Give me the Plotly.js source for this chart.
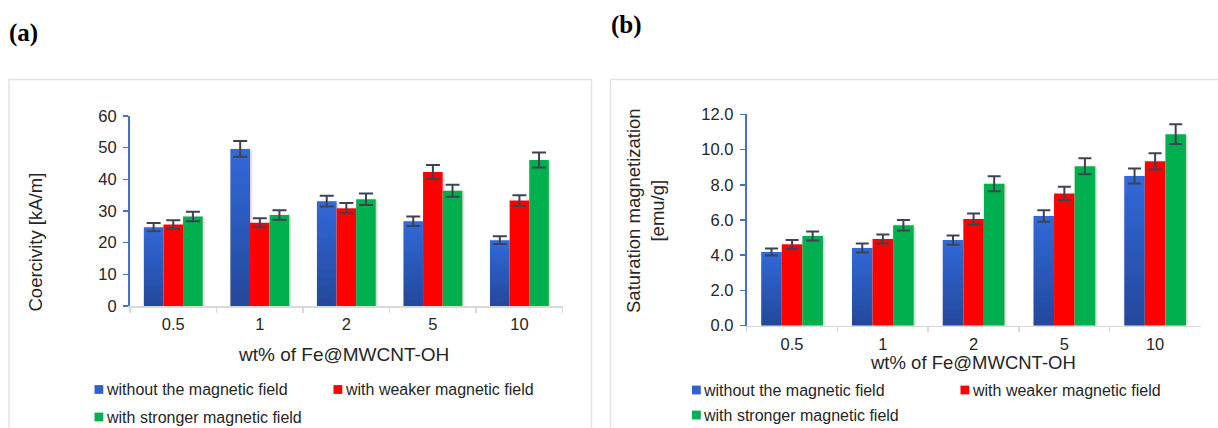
<!DOCTYPE html>
<html>
<head>
<meta charset="utf-8">
<script src="https://cdn.plot.ly/plotly-3.0.1.min.js"></script>
<style>
  html, body { margin: 0; padding: 0; background: #ffffff; }
  #chart { width: 1218px; height: 428px; }
</style>
</head>
<body>
<div id="chart"></div>
<script>
// ---------------- data ----------------
const categories = ['0.5', '1', '2', '5', '10'];
const seriesNames = ['without the magnetic field', 'with weaker magnetic field', 'with stronger magnetic field'];

// (a) Coercivity [kA/m]
const coercWithout  = [24.9, 49.6, 33.1, 26.8, 20.8];
const coercWeaker   = [25.7, 26.3, 30.9, 42.3, 33.3];
const coercStronger = [28.3, 28.7, 33.7, 36.4, 46.1];
const coercErrWithout  = [1.3, 2.5, 1.7, 1.5, 1.2];
const coercErrWeaker   = [1.4, 1.4, 1.6, 2.2, 1.7];
const coercErrStronger = [1.5, 1.5, 1.8, 1.9, 2.4];

// (b) Saturation magnetization [emu/g]
const satWithout  = [4.18, 4.41, 4.86, 6.23, 8.50];
const satWeaker   = [4.62, 4.92, 6.06, 7.51, 9.33];
const satStronger = [5.09, 5.70, 8.06, 9.05, 10.87];
const satErrWithout  = [0.20, 0.25, 0.26, 0.33, 0.43];
const satErrWeaker   = [0.25, 0.26, 0.31, 0.38, 0.46];
const satErrStronger = [0.26, 0.30, 0.43, 0.46, 0.56];

const yTitleA = 'Coercivity [kA/m]';
const yTitleB = 'Saturation magnetization<br>[emu/g]';
const xTitle = 'wt% of Fe@MWCNT-OH';

// ---------------- styling ----------------
const W = 1218, H = 428;
const px = x => x / W;
const py = y => 1 - y / H;
const FONT = 'Liberation Sans, Arial, sans-serif';
const TXT = '#262626';
const colors = ['#2e62cc', '#ff0000', '#00b050'];
const errColor = '#3d4350';

function barTrace(vals, errs, i, xa, ya, capw) {
  return {
    type: 'bar', x: categories, y: vals, name: seriesNames[i],
    xaxis: xa, yaxis: ya, showlegend: false, hoverinfo: 'skip',
    marker: { color: colors[i], line: { width: 0 } },
    error_y: { type: 'data', array: errs, visible: true, color: errColor, thickness: 2, width: capw }
  };
}

const data = [
  barTrace(coercWithout, coercErrWithout, 0, 'x', 'y', 7),
  barTrace(coercWeaker, coercErrWeaker, 1, 'x', 'y', 7),
  barTrace(coercStronger, coercErrStronger, 2, 'x', 'y', 7),
  barTrace(satWithout, satErrWithout, 0, 'x2', 'y2', 6.5),
  barTrace(satWeaker, satErrWeaker, 1, 'x2', 'y2', 6.5),
  barTrace(satStronger, satErrStronger, 2, 'x2', 'y2', 6.5)
];

const xAxisCommon = {
  type: 'category', showgrid: false, zeroline: false,
  showline: true, linecolor: '#d9d9d9', linewidth: 1.5,
  ticks: 'outside', tickson: 'boundaries', ticklen: 5, tickcolor: '#d9d9d9', tickwidth: 1.5,
  ticklabelstandoff: 3,
  tickfont: { family: FONT, size: 16.5, color: TXT }, fixedrange: true
};
const yAxisCommon = {
  showgrid: false, zeroline: false,
  showline: true, linecolor: '#4472c4', linewidth: 2,
  ticks: 'outside', ticklen: 5, tickcolor: '#4472c4', tickwidth: 1.5,
  ticklabelstandoff: 3,
  tickfont: { family: FONT, size: 16.5, color: TXT }, fixedrange: true
};

const shapes = [];
const annotations = [];

// panel frames
shapes.push({ type: 'rect', xref: 'paper', yref: 'paper', x0: px(9), x1: px(591.5), y0: py(445), y1: py(79.5),
  line: { color: '#dfe3ea', width: 1.5 }, fillcolor: 'rgba(0,0,0,0)', layer: 'below' });
shapes.push({ type: 'rect', xref: 'paper', yref: 'paper', x0: px(610.5), x1: px(1240), y0: py(445), y1: py(79.5),
  line: { color: '#dfe3ea', width: 1.5 }, fillcolor: 'rgba(0,0,0,0)', layer: 'below' });

// panel labels
annotations.push({ xref: 'paper', yref: 'paper', x: px(7), y: py(33), xanchor: 'left', yanchor: 'middle',
  text: '<b>(a)</b>', showarrow: false, font: { family: 'Liberation Serif, serif', size: 25, color: '#000' } });
annotations.push({ xref: 'paper', yref: 'paper', x: px(609), y: py(25), xanchor: 'left', yanchor: 'middle',
  text: '<b>(b)</b>', showarrow: false, font: { family: 'Liberation Serif, serif', size: 25, color: '#000' } });

// axis titles
annotations.push({ xref: 'paper', yref: 'paper', x: px(35), y: py(242.5), xanchor: 'center', yanchor: 'middle',
  text: yTitleA, textangle: -90, showarrow: false, font: { family: FONT, size: 18.5, color: TXT } });
annotations.push({ xref: 'paper', yref: 'paper', x: px(645), y: py(211), xanchor: 'center', yanchor: 'middle',
  text: yTitleB, textangle: -90, showarrow: false, font: { family: FONT, size: 18.5, color: TXT } });
annotations.push({ xref: 'paper', yref: 'paper', x: px(343), y: py(354), xanchor: 'center', yanchor: 'middle',
  text: xTitle, showarrow: false, font: { family: FONT, size: 19, color: TXT } });
annotations.push({ xref: 'paper', yref: 'paper', x: px(973), y: py(362.5), xanchor: 'center', yanchor: 'middle',
  text: xTitle, showarrow: false, font: { family: FONT, size: 18.5, color: TXT } });

// legends (custom, built from series names/colors)
function legend(pos) {
  pos.forEach((p, i) => {
    shapes.push({ type: 'rect', xref: 'paper', yref: 'paper',
      x0: px(p[0]), x1: px(p[0] + 8.8), y0: py(p[1] + 4.4), y1: py(p[1] - 4.4),
      line: { width: 0 }, fillcolor: colors[i] });
    annotations.push({ xref: 'paper', yref: 'paper', x: px(p[0] + 10), y: py(p[1]), xanchor: 'left', yanchor: 'middle',
      text: seriesNames[i], showarrow: false, borderpad: 0, font: { family: FONT, size: 16, color: TXT } });
  });
}
legend([[94.5, 389.5], [333.5, 389.5], [94.5, 417]]);
legend([[692, 390], [960.5, 390], [692, 415]]);

const layout = {
  width: W, height: H,
  margin: { l: 0, r: 0, t: 0, b: 0 },
  paper_bgcolor: '#ffffff', plot_bgcolor: 'rgba(0,0,0,0)',
  barmode: 'group', bargap: 0.32, bargroupgap: 0,
  showlegend: false,
  xaxis: Object.assign({}, xAxisCommon, { domain: [px(130), px(562.7)], anchor: 'y' }),
  yaxis: Object.assign({}, yAxisCommon, { domain: [py(306), py(116)], anchor: 'x', range: [0, 60], dtick: 10, tick0: 0 }),
  xaxis2: Object.assign({}, xAxisCommon, { domain: [px(746.7), px(1200.5)], anchor: 'y2' }),
  yaxis2: Object.assign({}, yAxisCommon, { domain: [py(325.7), py(114.3)], anchor: 'x2', range: [0, 12], dtick: 2, tick0: 0, tickformat: '.1f' }),
  shapes: shapes,
  annotations: annotations
};

Plotly.newPlot('chart', data, layout, { staticPlot: true, displayModeBar: false }).then(gd => {
  // blue gradient + soft shadow on bars
  const svg = gd.querySelector('svg.main-svg');
  const ns = 'http://www.w3.org/2000/svg';
  let defs = svg.querySelector('defs');
  if (!defs) { defs = document.createElementNS(ns, 'defs'); svg.insertBefore(defs, svg.firstChild); }
  const grad = document.createElementNS(ns, 'linearGradient');
  grad.setAttribute('id', 'blueGrad');
  grad.setAttribute('x1', '0'); grad.setAttribute('y1', '0'); grad.setAttribute('x2', '0'); grad.setAttribute('y2', '1');
  [['0', '#3169d9'], ['1', '#24489b']].forEach(s => {
    const st = document.createElementNS(ns, 'stop');
    st.setAttribute('offset', s[0]); st.setAttribute('stop-color', s[1]);
    grad.appendChild(st);
  });
  defs.appendChild(grad);
  const filt = document.createElementNS(ns, 'filter');
  filt.setAttribute('id', 'barShadow');
  filt.setAttribute('x', '-20%'); filt.setAttribute('y', '-5%'); filt.setAttribute('width', '140%'); filt.setAttribute('height', '110%');
  const ds = document.createElementNS(ns, 'feDropShadow');
  ds.setAttribute('dx', '1.2'); ds.setAttribute('dy', '0.5'); ds.setAttribute('stdDeviation', '1.2');
  ds.setAttribute('flood-color', '#7f7f7f'); ds.setAttribute('flood-opacity', '0.45');
  filt.appendChild(ds);
  defs.appendChild(filt);
  gd.querySelectorAll('.barlayer .point path').forEach(p => {
    const f = p.style.fill.replace(/\s/g, '');
    if (f === 'rgb(46,98,204)') p.style.fill = 'url(#blueGrad)';
    p.setAttribute('filter', 'url(#barShadow)');
  });
});
</script>
</body>
</html>
